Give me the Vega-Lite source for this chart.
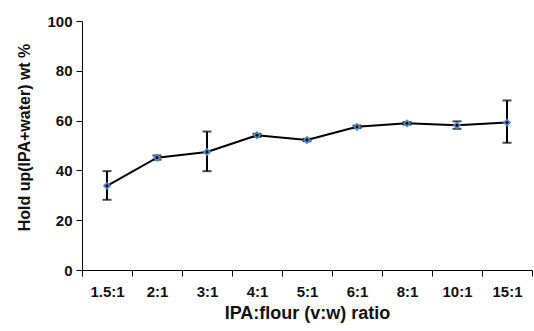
{
  "$schema": "https://vega.github.io/schema/vega-lite/v6.json",
  "width": 450,
  "height": 249,
  "autosize": "none",
  "padding": {"left": 82, "top": 21, "right": 2, "bottom": 61},
  "background": "white",
  "config": {
    "view": {"stroke": null},
    "font": "Liberation Sans"
  },
  "data": {
    "values": [
      {"ratio": "1.5:1", "v": 33.8, "lo": 28.2, "hi": 39.7},
      {"ratio": "2:1", "v": 45.1, "lo": 44.3, "hi": 46.0},
      {"ratio": "3:1", "v": 47.4, "lo": 39.7, "hi": 55.6},
      {"ratio": "4:1", "v": 54.1, "lo": 53.5, "hi": 54.7},
      {"ratio": "5:1", "v": 52.2, "lo": 51.7, "hi": 52.7},
      {"ratio": "6:1", "v": 57.5, "lo": 57.0, "hi": 58.0},
      {"ratio": "8:1", "v": 58.9, "lo": 58.4, "hi": 59.4},
      {"ratio": "10:1", "v": 58.1, "lo": 56.7, "hi": 59.7},
      {"ratio": "15:1", "v": 59.2, "lo": 51.1, "hi": 68.1}
    ]
  },
  "encoding": {
    "x": {
      "field": "ratio",
      "type": "ordinal",
      "sort": null,
      "scale": {"paddingInner": 0, "paddingOuter": 0},
      "axis": {
        "title": "IPA:flour (v:w) ratio",
        "labelAngle": 0,
        "labelFont": "Liberation Sans",
        "labelFontWeight": "bold",
        "labelFontSize": 15,
        "labelColor": "#111",
        "labelPadding": 8,
        "titleFont": "Liberation Sans",
        "titleFontWeight": "bold",
        "titleFontSize": 18,
        "titleColor": "#111",
        "titlePadding": 5,
        "tickBand": "extent",
        "tickSize": 6,
        "tickColor": "#000",
        "domainColor": "#000",
        "domainWidth": 1,
        "grid": false
      }
    }
  },
  "layer": [
    {
      "mark": {"type": "line", "color": "#000", "strokeWidth": 2},
      "encoding": {
        "y": {
          "field": "v",
          "type": "quantitative",
          "scale": {"domain": [0, 100]},
          "axis": {
            "title": "Hold up(IPA+water) wt %",
            "values": [0, 20, 40, 60, 80, 100],
            "labelFont": "Liberation Sans",
            "labelFontWeight": "bold",
            "labelFontSize": 15,
            "labelColor": "#111",
            "labelPadding": 4,
            "titleFont": "Liberation Sans",
            "titleFontWeight": "bold",
            "titleFontSize": 16,
            "titleColor": "#111",
            "titlePadding": 14,
            "titleY": 116,
            "tickSize": 6,
            "tickColor": "#000",
            "domainColor": "#000",
            "grid": false
          }
        }
      }
    },
    {
      "mark": {"type": "rule", "color": "#000", "strokeWidth": 2},
      "encoding": {
        "y": {"field": "lo", "type": "quantitative"},
        "y2": {"field": "hi"}
      }
    },
    {
      "mark": {"type": "tick", "color": "#000", "thickness": 2, "size": 9, "orient": "horizontal"},
      "encoding": {"y": {"field": "lo", "type": "quantitative"}}
    },
    {
      "mark": {"type": "tick", "color": "#000", "thickness": 2, "size": 9, "orient": "horizontal"},
      "encoding": {"y": {"field": "hi", "type": "quantitative"}}
    },
    {
      "mark": {"type": "point", "shape": "diamond", "filled": true, "color": "#4a86c8", "size": 70, "opacity": 1},
      "encoding": {"y": {"field": "v", "type": "quantitative"}}
    },
    {
      "mark": {"type": "point", "shape": "circle", "filled": true, "color": "#000", "size": 8, "opacity": 1},
      "encoding": {"y": {"field": "v", "type": "quantitative"}}
    }
  ]
}
